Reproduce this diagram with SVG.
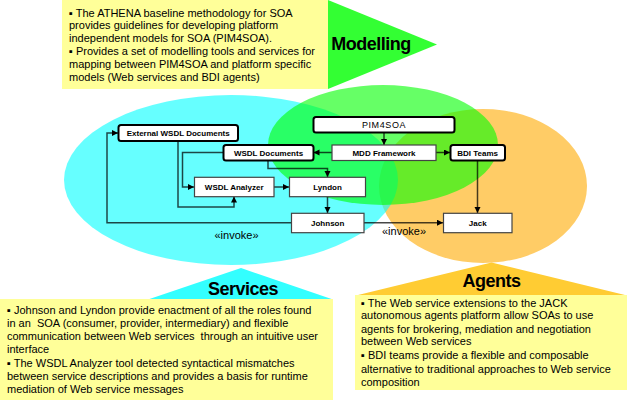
<svg xmlns="http://www.w3.org/2000/svg" width="628" height="403" viewBox="0 0 628 403">
<style>
.box{fill:#FFFF99}
.body{font-family:"Liberation Sans",Arial,sans-serif;font-size:11px;fill:#000}
.title{font-family:"Liberation Sans",Arial,sans-serif;font-size:18px;font-weight:bold;fill:#000;letter-spacing:-0.5px;text-anchor:middle}
.thick{fill:#fff;stroke:#000;stroke-width:2}
.thin{fill:#fff;stroke:#444;stroke-width:1.2}
.lbl{font-family:"Liberation Sans",Arial,sans-serif;font-size:8px;font-weight:bold;fill:#000;text-anchor:middle}
.con{fill:none;stroke:#000;stroke-opacity:0.72;stroke-width:1.5;marker-end:url(#arr)}
.inv{font-family:"Liberation Sans",Arial,sans-serif;font-size:11px;fill:#000;text-anchor:middle}
</style>
<defs>
<marker id="arr" markerUnits="userSpaceOnUse" markerWidth="7" markerHeight="7" refX="6" refY="3" orient="auto">
<path d="M0,0 L6,3 L0,6 z" fill="#000"/>
</marker>
</defs>

<g id="areas">
<ellipse cx="483" cy="186" rx="104" ry="77" fill="#FFCC66"/>
<ellipse cx="231" cy="180" rx="167" ry="85" fill="#00FFFF" fill-opacity="0.6"/>
<ellipse cx="383" cy="145" rx="115" ry="60" fill="#00FF00" fill-opacity="0.6"/>
</g>

<g id="modelling">
<rect class="box" x="62" y="0" width="266" height="89"/>
<polygon points="328,0 437,44.5 328,89" fill="#33FF33"/>
<text class="title" x="371" y="50">Modelling</text>
<text class="body" x="69" y="16.7">▪ The ATHENA baseline methodology for SOA</text>
<text class="body" x="69" y="29.2">provides guidelines for developing platform</text>
<text class="body" x="69" y="41.7">independent models for SOA (PIM4SOA).</text>
<text class="body" x="69" y="55">▪ Provides a set of modelling tools and services for</text>
<text class="body" x="69" y="67.5">mapping between PIM4SOA and platform specific</text>
<text class="body" x="69" y="80.8">models (Web services and BDI agents)</text>
</g>

<g id="services">
<polygon points="148,299.5 241,268 333,299.5" fill="#33FFFF"/>
<rect class="box" x="0" y="299" width="333" height="101"/>
<text class="title" x="243" y="295">Services</text>
<text class="body" x="7" y="314">▪ Johnson and Lyndon provide enactment of all the roles found</text>
<text class="body" x="7" y="327" xml:space="preserve">in an  SOA (consumer, provider, intermediary) and flexible</text>
<text class="body" x="7" y="340" xml:space="preserve">communication between Web services  through an intuitive user</text>
<text class="body" x="7" y="353">interface</text>
<text class="body" x="7" y="367">▪ The WSDL Analyzer tool detected syntactical mismatches</text>
<text class="body" x="7" y="380">between service descriptions and provides a basis for runtime</text>
<text class="body" x="7" y="393">mediation of Web service messages</text>
</g>

<g id="agents">
<polygon points="356,295.5 491.5,262.5 627,295.5" fill="#FFCC33"/>
<rect class="box" x="355" y="295" width="272" height="95"/>
<text class="title" x="491.5" y="286.5">Agents</text>
<text class="body" x="361" y="306.7">▪ The Web service extensions to the JACK</text>
<text class="body" x="361" y="319.3">autonomous agents platform allow SOAs to use</text>
<text class="body" x="361" y="332.7">agents for brokering, mediation and negotiation</text>
<text class="body" x="361" y="345">between Web services</text>
<text class="body" x="361" y="359.3">▪ BDI teams provide a flexible and composable</text>
<text class="body" x="361" y="372.7">alternative to traditional approaches to Web service</text>
<text class="body" x="361" y="386">composition</text>
</g>

<g id="connectors">
<path class="con" d="M384,132.5 V145"/>
<path class="con" d="M332,152.5 H313.5"/>
<path class="con" d="M436,152.5 H450"/>
<path class="con" d="M477.5,160.5 V213"/>
<path class="con" d="M268,160.5 V168.5 H327.5 V177"/>
<path class="con" d="M223,152.5 H182.5 V187 H194"/>
<path class="con" d="M178,141.5 V207 H234 V196.5"/>
<path class="con" d="M274,187 H289"/>
<path class="con" d="M327.5,196.5 V213"/>
<path class="con" d="M291,222.7 H107 V133 H118"/>
<path class="con" d="M364,222.7 H443"/>
<text class="inv" x="236.5" y="239.3">«invoke»</text>
<text class="inv" x="404" y="235.3">«invoke»</text>
</g>

<g id="node-pim4soa">
<rect class="thick" x="313.5" y="117" width="141" height="15.5" rx="2.5"/>
<text x="384" y="128" font-family="Liberation Sans, Arial, sans-serif" font-size="9" letter-spacing="0.6" text-anchor="middle">PIM4SOA</text>
</g>
<g id="node-mdd">
<rect class="thin" x="332" y="145" width="104" height="15.5"/>
<text class="lbl" x="384" y="155.6">MDD Framework</text>
</g>
<g id="node-bdi">
<rect class="thick" x="450.5" y="145" width="54.5" height="15.5" rx="2.5"/>
<text class="lbl" x="477.7" y="155.6">BDI Teams</text>
</g>
<g id="node-wsdl-docs">
<rect class="thick" x="223.5" y="145" width="90" height="15.5" rx="2.5"/>
<text class="lbl" x="268.5" y="155.6">WSDL Documents</text>
</g>
<g id="node-ext-wsdl">
<rect class="thick" x="118.5" y="125" width="119.5" height="16" rx="2.5"/>
<text class="lbl" x="178.2" y="135.9">External WSDL Documents</text>
</g>
<g id="node-analyzer">
<rect class="thin" x="194.5" y="177.3" width="79.5" height="19.4"/>
<text class="lbl" x="234.2" y="189.9">WSDL Analyzer</text>
</g>
<g id="node-lyndon">
<rect class="thin" x="289.5" y="177.3" width="76" height="19.4"/>
<text class="lbl" x="327.5" y="189.9">Lyndon</text>
</g>
<g id="node-johnson">
<rect class="thin" x="291.5" y="213.3" width="72.5" height="19.4"/>
<text class="lbl" x="327.7" y="225.9">Johnson</text>
</g>
<g id="node-jack">
<rect class="thin" x="443.5" y="213.3" width="68.5" height="19.4"/>
<text class="lbl" x="477.7" y="225.9">Jack</text>
</g>
</svg>
